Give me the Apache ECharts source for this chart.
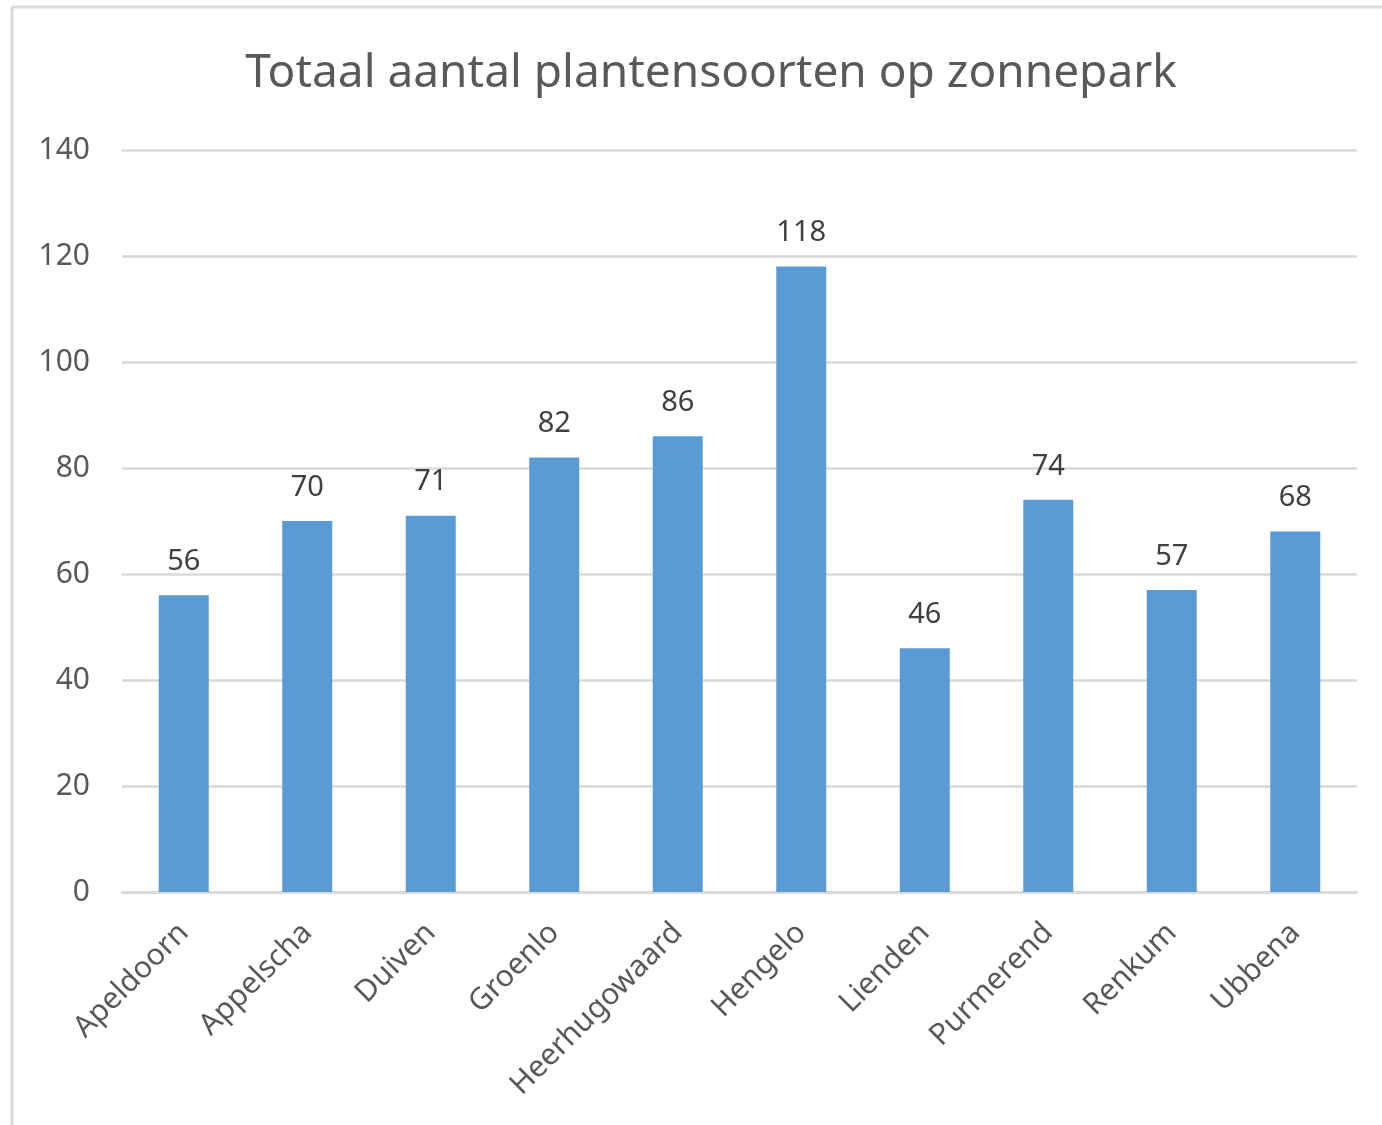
<!DOCTYPE html>
<html>
<head>
<meta charset="utf-8">
<script src="https://cdn.jsdelivr.net/npm/echarts@6/dist/echarts.min.js"></script>
<style>
html, body { margin: 0; padding: 0; background: #fff; }
#chart { position: absolute; left: 0; top: 0; width: 1382px; height: 1125px; }
</style>
</head>
<body>
<div id="chart"></div>
<script>
const titleText = 'Totaal aantal plantensoorten op zonnepark';
const plaatsen = ['Apeldoorn', 'Appelscha', 'Duiven', 'Groenlo', 'Heerhugowaard', 'Hengelo', 'Lienden', 'Purmerend', 'Renkum', 'Ubbena'];
const soorten = [56, 70, 71, 82, 86, 118, 46, 74, 57, 68];

const font = 'Noto Sans';
const txt = '#595959';

const chart = echarts.init(document.getElementById('chart'));
chart.setOption({
	animation: false,
	backgroundColor: '#fff',
	textStyle: { fontFamily: font },
	title: {
		text: titleText,
		left: 706,
		textAlign: 'center',
		top: 46,
		textStyle: { fontFamily: font, fontSize: 46, fontWeight: 'normal', color: txt }
	},
	graphic: [
		{ type: 'line', shape: { x1: 12, y1: 7, x2: 1382, y2: 7 }, style: { stroke: '#d9d9d9', lineWidth: 3 } },
		{ type: 'line', shape: { x1: 12, y1: 7, x2: 12, y2: 1125 }, style: { stroke: '#d9d9d9', lineWidth: 3 } }
	],
	grid: { left: 122, right: 25, top: 150, bottom: 233, containLabel: false },
	xAxis: {
		type: 'category',
		data: plaatsen,
		axisLine: { lineStyle: { color: '#d9d9d9', width: 2.5 } },
		axisTick: { show: false },
		axisLabel: {
			rotate: 45,
			interval: 0,
			margin: 36,
			fontFamily: font,
			fontSize: 30,
			color: txt
		}
	},
	yAxis: {
		type: 'value',
		min: 0,
		max: 140,
		interval: 20,
		axisLine: { show: false },
		axisTick: { show: false },
		splitLine: { lineStyle: { color: '#d9d9d9', width: 2.5 } },
		axisLabel: { margin: 32, fontFamily: font, fontSize: 30, color: txt }
	},
	series: [{
		type: 'bar',
		data: soorten,
		barWidth: 50,
		itemStyle: { color: '#5b9bd5' },
		label: {
			show: true,
			position: 'top',
			distance: 19,
			fontFamily: font,
			fontSize: 29,
			color: '#404040'
		}
	}]
});
</script>
</body>
</html>
